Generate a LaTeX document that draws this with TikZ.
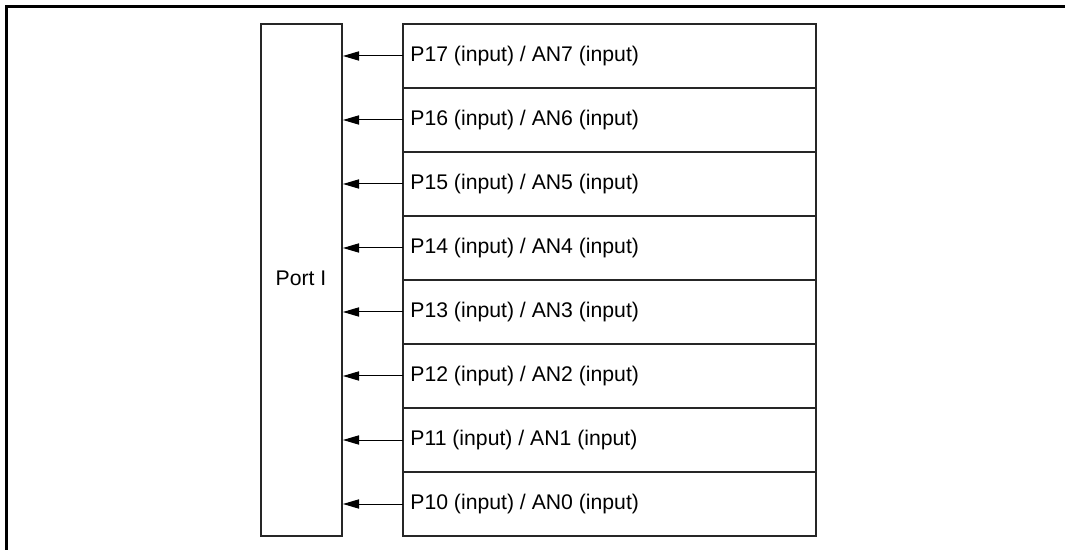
\documentclass[tikz,border=0pt]{standalone}
\usepackage{fontspec}
\setmainfont{Liberation Sans}
\usetikzlibrary{arrows.meta}
\begin{document}
\begin{tikzpicture}[x=0.5pt,y=-0.5pt,
  thinline/.style={line width=0.6pt,draw=black!85},
  rowbox/.style={thinline,minimum width=206.5pt,minimum height=32pt,inner sep=0pt,outer sep=0pt,anchor=north west},
  rowtext/.style={font=\fontsize{10.6pt}{12pt}\selectfont,anchor=west,inner sep=0pt},
  arr/.style={line width=0.5pt,-{Triangle[length=8pt,width=4.6pt]}}]
\useasboundingbox (0,0) rectangle (1065,550);
\draw[line width=1.5pt] (1065,7) -- (6,7) -- (6,550);
\node[thinline,minimum width=40.5pt,minimum height=256pt,inner sep=0pt,outer sep=0pt,anchor=north west] (port) at (261,24) {};
\node[font=\fontsize{10.6pt}{12pt}\selectfont] (portlabel) at (301,278) {Port I};
\foreach \i/\n in {0/7,1/6,2/5,3/4,4/3,5/2,6/1,7/0}{
  \node[rowbox] (row\i) at (403,{24+64*\i}) {};
  \node[rowtext] (txt\i) at (410,{56+64*\i}) {P1\n{} (input) / AN\n{} (input)};
  \coordinate (tip\i) at (343,{56+64*\i});
  \draw[arr] (row\i.west) -- (tip\i);
}
\end{tikzpicture}
\end{document}
